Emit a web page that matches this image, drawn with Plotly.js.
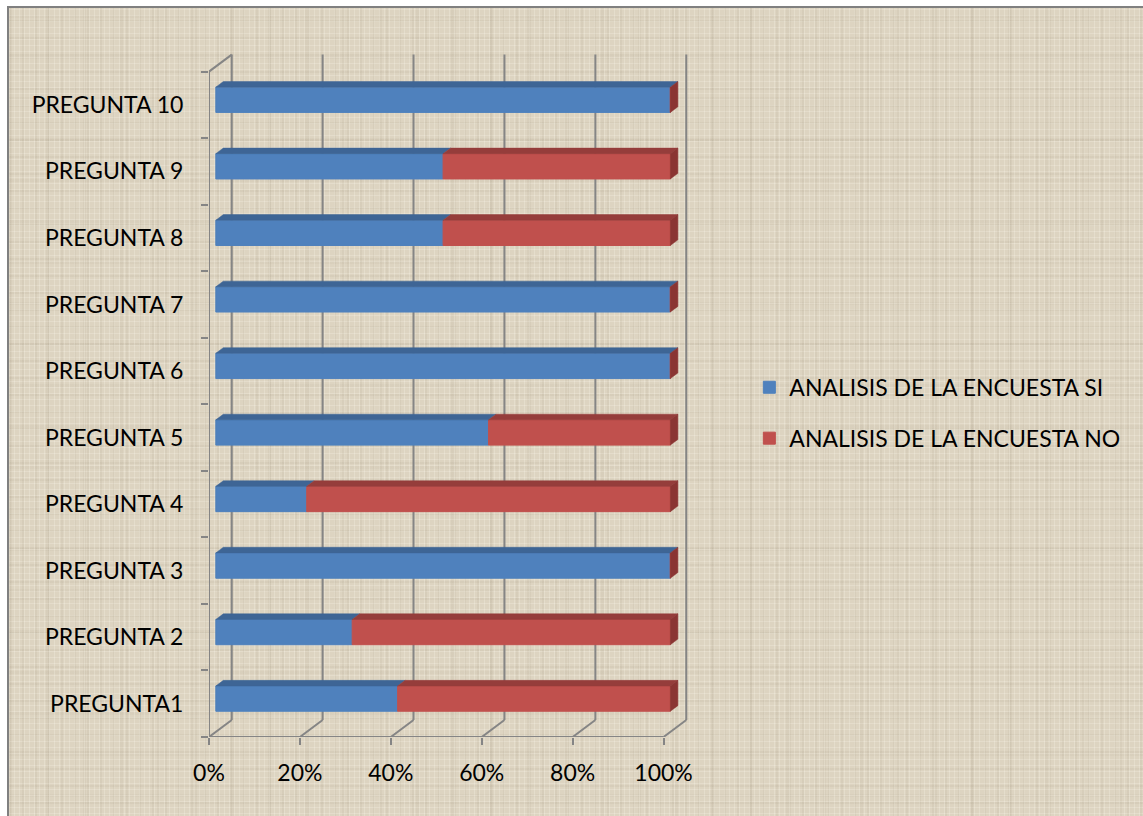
<!DOCTYPE html>
<html>
<head>
<meta charset="utf-8">
<script src="https://cdn.plot.ly/plotly-3.0.1.min.js"></script>
<style>
  html, body { margin: 0; padding: 0; background: #ffffff; width: 1143px; height: 816px; overflow: hidden; }
  #bg {
    position: absolute; left: 7px; top: 6px; width: 1150px; height: 830px;
    border-left: 2px solid #808080; border-top: 2px solid #808080;
    background:
      repeating-linear-gradient(90deg, rgba(255,253,242,0.22) 0 1px, transparent 1px 5px),
      repeating-linear-gradient(90deg, rgba(110,95,70,0.06) 0 2px, transparent 2px 13px),
      repeating-linear-gradient(90deg, rgba(110,95,70,0.05) 0 3px, transparent 3px 37px),
      repeating-linear-gradient(0deg, rgba(255,253,242,0.20) 0 1px, transparent 1px 6px),
      repeating-linear-gradient(0deg, rgba(110,95,70,0.06) 0 2px, transparent 2px 17px),
      repeating-linear-gradient(0deg, rgba(110,95,70,0.04) 0 3px, transparent 3px 41px),
      #DDD4C1;
  }
  #chart { position: absolute; left: 0; top: 0; width: 1143px; height: 816px; }
</style>
</head>
<body>
<div id="bg"></div>
<div id="chart"></div>
<script>
// ---- data ----
const categories = ['PREGUNTA1', 'PREGUNTA 2', 'PREGUNTA 3', 'PREGUNTA 4', 'PREGUNTA 5',
                    'PREGUNTA 6', 'PREGUNTA 7', 'PREGUNTA 8', 'PREGUNTA 9', 'PREGUNTA 10'];
const siValues = [0.40, 0.30, 1.00, 0.20, 0.60, 1.00, 1.00, 0.50, 0.50, 1.00];
const noValues = [0.60, 0.70, 0.00, 0.80, 0.40, 0.00, 0.00, 0.50, 0.50, 0.00];
const seriesNames = ['ANALISIS DE LA ENCUESTA SI', 'ANALISIS DE LA ENCUESTA NO'];
const xTickValues = [0, 0.2, 0.4, 0.6, 0.8, 1.0];
const xTickLabels = ['0%', '20%', '40%', '60%', '80%', '100%'];

// ---- 3D styling constants ----
const DEPTH_X = 0.05, DEPTH_Y = 0.256;   // full depth of the box in axis units
const FRONT = 0.30, BACK = 0.63;         // depth position of the bars
const HALF = 0.19;                       // half bar thickness
const GRID = '#858585';
const FONT = 'Lato, "Open Sans", sans-serif';
const FS = 23;

const idx = categories.map((_, i) => i);
const ox = FRONT * DEPTH_X, oy = FRONT * DEPTH_Y;
const dx = (BACK - FRONT) * DEPTH_X, dy = (BACK - FRONT) * DEPTH_Y;
const yc = idx.map(i => i + oy);

const siBase = idx.map(() => ox);
const noBase = idx.map(i => ox + siValues[i]);

function topFaces(bases, vals) {
  const xs = [], ys = [];
  idx.forEach(i => {
    if (vals[i] <= 0) return;
    const x0 = bases[i], x1 = bases[i] + vals[i], yt = yc[i] + HALF;
    xs.push(x0, x1, x1 + dx, x0 + dx, x0, null);
    ys.push(yt, yt, yt + dy, yt + dy, yt, null);
  });
  return {xs, ys};
}
function sideFaces() {
  const xs = [], ys = [];
  idx.forEach(i => {
    const x1 = ox + siValues[i] + noValues[i];
    const y0 = yc[i] - HALF, y1 = yc[i] + HALF;
    xs.push(x1, x1, x1 + dx, x1 + dx, x1, null);
    ys.push(y0, y1, y1 + dy, y0 + dy, y0, null);
  });
  return {xs, ys};
}

const siTop = topFaces(siBase, siValues);
const noTop = topFaces(noBase, noValues);
const side = sideFaces();

const traces = [
  {type: 'bar', orientation: 'h', name: seriesNames[0], legendgroup: 'si',
   y: yc, x: siValues, base: siBase, width: 2 * HALF,
   marker: {color: '#4F81BD', line: {width: 1, color: '#4F81BD'}}, hoverinfo: 'skip'},
  {type: 'bar', orientation: 'h', name: seriesNames[1], legendgroup: 'no',
   y: yc, x: noValues, base: noBase, width: 2 * HALF,
   marker: {color: '#C0504D', line: {width: 1, color: '#C0504D'}}, hoverinfo: 'skip'},
  {type: 'scatter', mode: 'lines', x: siTop.xs, y: siTop.ys, fill: 'toself',
   fillcolor: '#3E6595', line: {width: 0.5, color: '#3E6595'}, showlegend: false, hoverinfo: 'skip'},
  {type: 'scatter', mode: 'lines', x: noTop.xs, y: noTop.ys, fill: 'toself',
   fillcolor: '#953D3B', line: {width: 0.5, color: '#953D3B'}, showlegend: false, hoverinfo: 'skip'},
  {type: 'scatter', mode: 'lines', x: side.xs, y: side.ys, fill: 'toself',
   fillcolor: '#8A3533', line: {width: 0.5, color: '#8A3533'}, showlegend: false, hoverinfo: 'skip'}
];

// ---- box frame (walls / floor) ----
const yMin = -0.5, yMax = categories.length - 0.5;
const shapes = [];
function seg(x0, y0, x1, y1) {
  shapes.push({type: 'line', xref: 'x', yref: 'y', x0, y0, x1, y1, layer: 'below',
               line: {color: GRID, width: 2}});
}
xTickValues.forEach(t => seg(t + DEPTH_X, yMin + DEPTH_Y, t + DEPTH_X, yMax + DEPTH_Y));
xTickValues.forEach(t => seg(t, yMin, t + DEPTH_X, yMin + DEPTH_Y));
seg(xTickValues[0], yMin, xTickValues[xTickValues.length - 1], yMin);
seg(0, yMin, 0, yMax);
seg(0, yMax, DEPTH_X, yMax + DEPTH_Y);

const boundaries = idx.map(i => i - 0.5).concat([yMax]);

// plot area in pixels
const PL = 209.3, PW = 499.4, PT = 45.4, PH = 691.6;

const layout = {
  width: 1143, height: 816,
  margin: {l: PL, r: 1143 - PL - PW, t: PT, b: 816 - PT - PH, pad: 0},
  paper_bgcolor: 'rgba(0,0,0,0)', plot_bgcolor: 'rgba(0,0,0,0)',
  barmode: 'overlay',
  showlegend: true,
  font: {family: FONT, size: FS, color: '#000000'},
  xaxis: {range: [0, 1.1], tickvals: xTickValues, ticktext: xTickLabels,
          ticks: 'outside', ticklen: 7, tickwidth: 2, tickcolor: GRID, ticklabelstandoff: 8,
          showgrid: false, zeroline: false, showline: false, fixedrange: true,
          tickfont: {family: FONT, size: FS, color: '#000'}},
  yaxis: {range: [yMin, 9.9], tickvals: idx, ticktext: categories,
          ticks: 'outside', ticklen: 20, tickcolor: 'rgba(0,0,0,0)',
          minor: {tickvals: boundaries, ticks: 'outside', ticklen: 7, tickwidth: 2, tickcolor: GRID, showgrid: false},
          showgrid: false, zeroline: false, showline: false, fixedrange: true,
          tickfont: {family: FONT, size: FS, color: '#000'}},
  legend: {x: (749 - PL) / PW, xanchor: 'left', y: 1 - (413 - PT) / PH, yanchor: 'middle',
           bgcolor: 'rgba(0,0,0,0)', traceorder: 'grouped', tracegroupgap: 18,
           font: {family: FONT, size: FS, color: '#000'}},
  shapes: shapes
};

Plotly.newPlot('chart', traces, layout, {displayModeBar: false, staticPlot: true});
</script>
</body>
</html>
